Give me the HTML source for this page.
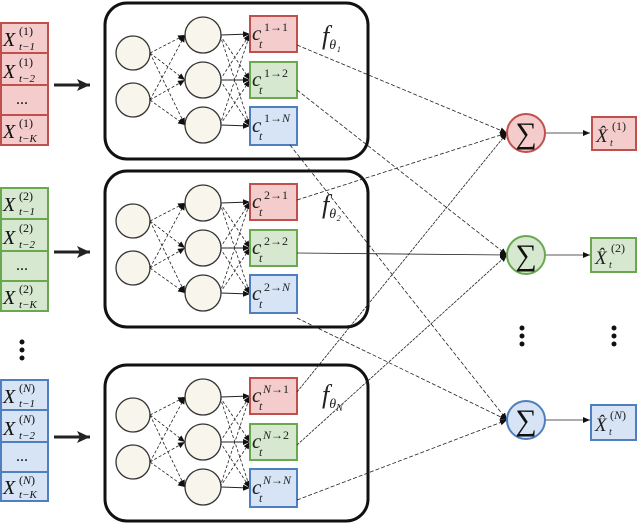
<!DOCTYPE html>
<html><head><meta charset="utf-8"><style>
body{margin:0;background:#fff}
svg{display:block;font-family:"Liberation Serif",serif;font-style:italic}
</style></head><body>
<svg width="640" height="526" viewBox="0 0 640 526" xmlns="http://www.w3.org/2000/svg">
<defs>
<marker id="a" markerWidth="8" markerHeight="8" refX="7" refY="4" orient="auto" markerUnits="userSpaceOnUse"><path d="M0,1 L7,4 L0,7z" fill="#111"/></marker>
<marker id="b" markerWidth="14" markerHeight="12" refX="13" refY="6" orient="auto" markerUnits="userSpaceOnUse"><path d="M0,0 L13,6 L0,12 L3,6z" fill="#222"/></marker>
<g id="net">
<rect x="105" y="3" width="263" height="156" rx="22" fill="#fff" stroke="#111" stroke-width="3"/>
<g stroke="#222" stroke-width="0.8" stroke-dasharray="3,2" fill="none" marker-end="url(#a)">
<path d="M150,53 L185,35"/><path d="M150,53 L185,80"/><path d="M150,53 L185,125"/>
<path d="M150,100 L185,35"/><path d="M150,100 L185,80"/><path d="M150,100 L185,125"/>
<path d="M220,35 L250,80"/><path d="M220,35 L250,126"/>
<path d="M220,80 L250,34"/><path d="M220,80 L250,126"/>
<path d="M220,125 L250,34"/><path d="M220,125 L250,80"/>
</g>
<g stroke="#222" stroke-width="1" fill="none" marker-end="url(#a)">
<path d="M221,35 L250,34"/><path d="M221,80 L250,80"/><path d="M221,125 L250,126"/>
</g>
<g fill="#f8f5ec" stroke="#333" stroke-width="1.3">
<circle cx="133" cy="53" r="17"/><circle cx="133" cy="100" r="17"/>
<circle cx="203" cy="35" r="18"/><circle cx="203" cy="80" r="18"/><circle cx="203" cy="125" r="18"/>
</g>
<rect x="250" y="16" width="47" height="36" fill="#f5cccc" stroke="#c0504d" stroke-width="2"/>
<rect x="250" y="62" width="47" height="36" fill="#d6e8cf" stroke="#6aa84f" stroke-width="2"/>
<rect x="250" y="107" width="47" height="38" fill="#d6e4f5" stroke="#4f7fbf" stroke-width="2"/>
</g>
</defs>

<g stroke-width="2">
<g fill="#f5cccc" stroke="#c0504d">
<rect x="1" y="23" width="47" height="30"/><rect x="1" y="53" width="47" height="32"/><rect x="1" y="85" width="47" height="30"/><rect x="1" y="115" width="47" height="30"/></g>
<g fill="#d6e8cf" stroke="#6aa84f">
<rect x="1" y="188" width="47" height="31"/><rect x="1" y="219" width="47" height="32"/><rect x="1" y="251" width="47" height="30"/><rect x="1" y="281" width="47" height="30"/></g>
<g fill="#d6e4f5" stroke="#4f7fbf">
<rect x="1" y="380" width="47" height="30"/><rect x="1" y="410" width="47" height="32"/><rect x="1" y="442" width="47" height="30"/><rect x="1" y="472" width="47" height="29"/></g>
</g>
<g fill="#111">
<g font-size="20">
<text x="3" y="46">X</text><text x="3" y="78">X</text><text x="3" y="138">X</text>
<text x="3" y="211">X</text><text x="3" y="244">X</text><text x="3" y="304">X</text>
<text x="3" y="403">X</text><text x="3" y="435">X</text><text x="3" y="494">X</text>
</g>
<g font-size="12" font-style="normal">
<text x="19" y="35">(1)</text><text x="19" y="66">(1)</text><text x="19" y="127">(1)</text>
<text x="19" y="200">(2)</text><text x="19" y="232">(2)</text><text x="19" y="293">(2)</text>
<text x="19" y="392">(<tspan font-style="italic">N</tspan>)</text><text x="19" y="423">(<tspan font-style="italic">N</tspan>)</text><text x="19" y="484">(<tspan font-style="italic">N</tspan>)</text>
</g>
<g font-size="11">
<text x="19" y="50">t−1</text><text x="19" y="82">t−2</text><text x="19" y="142">t−K</text>
<text x="19" y="215">t−1</text><text x="19" y="248">t−2</text><text x="19" y="308">t−K</text>
<text x="19" y="407">t−1</text><text x="19" y="439">t−2</text><text x="19" y="498">t−K</text>
</g>
<g font-size="16" font-style="normal">
<text x="16" y="104">...</text><text x="16" y="270">...</text><text x="16" y="461">...</text>
</g>
</g>
<g fill="#111"><circle cx="22" cy="342" r="2.5"/><circle cx="22" cy="350" r="2.5"/><circle cx="22" cy="358" r="2.5"/>
<circle cx="522" cy="328" r="2.5"/><circle cx="522" cy="336" r="2.5"/><circle cx="522" cy="344" r="2.5"/>
<circle cx="614" cy="328" r="2.5"/><circle cx="614" cy="336" r="2.5"/><circle cx="614" cy="344" r="2.5"/></g>

<g stroke="#222" stroke-width="3" marker-end="url(#b)">
<line x1="54" y1="85" x2="90" y2="85"/><line x1="54" y1="252" x2="90" y2="252"/><line x1="54" y1="437" x2="90" y2="437"/>
</g>

<use href="#net"/>
<use href="#net" y="168"/>
<use href="#net" y="362"/>

<g fill="#222">
<g font-size="21">
<text x="252" y="40">c</text><text x="252" y="86">c</text><text x="252" y="132">c</text>
<text x="252" y="208">c</text><text x="252" y="254">c</text><text x="252" y="300">c</text>
<text x="252" y="402">c</text><text x="252" y="448">c</text><text x="252" y="494">c</text>
</g>
<g font-size="12">
<text x="259" y="48">t</text><text x="259" y="94">t</text><text x="259" y="140">t</text>
<text x="259" y="216">t</text><text x="259" y="262">t</text><text x="259" y="308">t</text>
<text x="259" y="410">t</text><text x="259" y="456">t</text><text x="259" y="502">t</text>
</g>
<g font-size="12" font-style="normal">
<text x="264" y="31">1→1</text><text x="264" y="77">1→2</text><text x="264" y="122">1→<tspan font-style="italic">N</tspan></text>
<text x="264" y="199">2→1</text><text x="264" y="245">2→2</text><text x="264" y="291">2→<tspan font-style="italic">N</tspan></text>
<text x="263" y="393"><tspan font-style="italic">N</tspan>→1</text><text x="263" y="439"><tspan font-style="italic">N</tspan>→2</text><text x="263" y="484"><tspan font-style="italic">N</tspan>→<tspan font-style="italic">N</tspan></text>
</g>
<text x="322" y="44" font-size="26">f<tspan font-size="14" dy="5">θ₁</tspan></text>
<text x="322" y="213" font-size="26">f<tspan font-size="14" dy="5">θ₂</tspan></text>
<text x="322" y="403" font-size="26">f<tspan font-size="14" dy="5">θ<tspan font-size="10" dy="3">N</tspan></tspan></text>
</g>

<g stroke="#222" stroke-width="0.8" fill="none" marker-end="url(#a)">
<path d="M297,45 L507,133" stroke-dasharray="4,2"/>
<path d="M297,90 L507,255" stroke-dasharray="4,2"/>
<path d="M290,145 L507,420" stroke-dasharray="4,2"/>
<path d="M297,200 L507,133" stroke-dasharray="4,2"/>
<path d="M297,253 L507,255"/>
<path d="M297,318 L507,420" stroke-dasharray="4,2"/>
<path d="M297,392 L507,133" stroke-dasharray="3,1"/>
<path d="M297,445 L507,255" stroke-dasharray="3,1"/>
<path d="M297,500 L507,420" stroke-dasharray="4,2"/>
<path d="M546,133 L590,133"/><path d="M546,255 L590,255"/><path d="M546,420 L590,420"/>
</g>

<g stroke-width="2">
<circle cx="526" cy="133" r="19" fill="#f5cccc" stroke="#c0504d"/>
<circle cx="526" cy="255" r="19" fill="#d6e8cf" stroke="#6aa84f"/>
<circle cx="526" cy="420" r="19" fill="#d6e4f5" stroke="#4f7fbf"/>
<rect x="592" y="117" width="44" height="33" fill="#f5cccc" stroke="#c0504d"/>
<rect x="591" y="238" width="45" height="34" fill="#d6e8cf" stroke="#6aa84f"/>
<rect x="591" y="405" width="45" height="35" fill="#d6e4f5" stroke="#4f7fbf"/>
</g>
<g font-size="30" fill="#111" font-style="normal" text-anchor="middle">
<text x="526" y="143">∑</text><text x="526" y="265">∑</text><text x="526" y="430">∑</text>
</g>
<g fill="#222">
<g font-size="19">
<text x="596" y="142">X̂</text><text x="595" y="264">X̂</text><text x="595" y="431">X̂</text>
</g>
<g font-size="10"><text x="610" y="146">t</text><text x="609" y="268">t</text><text x="609" y="435">t</text></g>
<g font-size="12" font-style="normal">
<text x="612" y="130">(1)</text><text x="611" y="252">(2)</text><text x="610" y="419">(<tspan font-style="italic">N</tspan>)</text>
</g>
</g>
</svg>
</body></html>
